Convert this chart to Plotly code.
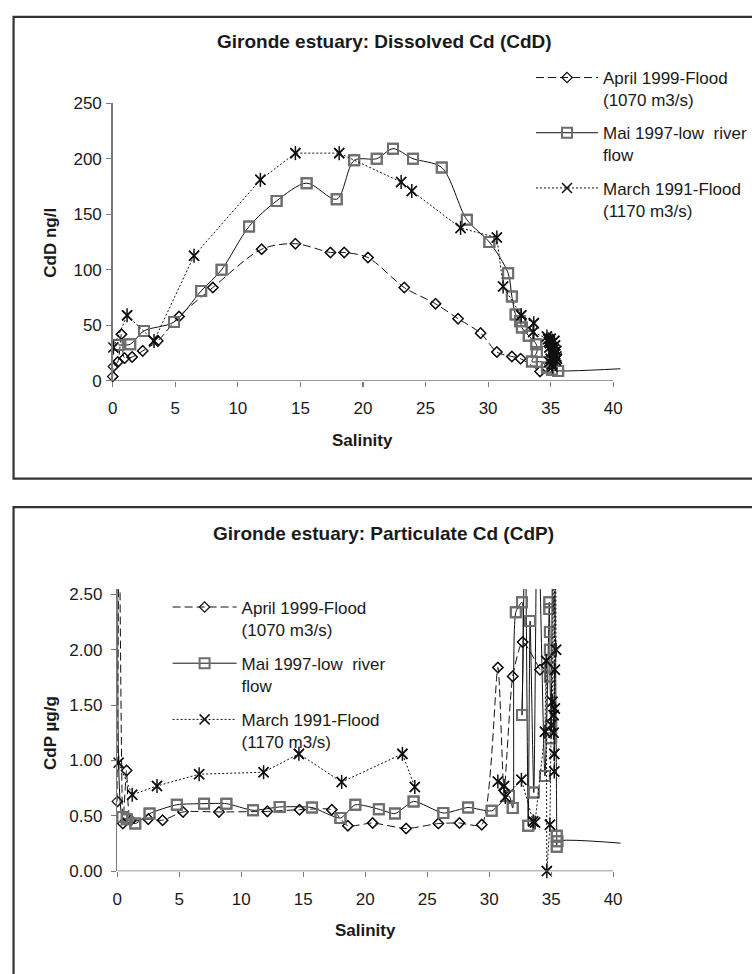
import plotly.graph_objects as go

# ---------------- data: dissolved Cd (top panel) ----------------
april_d_sal = [0.0, 0.05, 0.4, 0.7, 0.95, 1.55, 2.4, 3.6, 5.3, 8.0, 11.9, 14.6, 17.4, 18.5,
               20.4, 23.3, 25.8, 27.6, 29.4, 30.7, 31.9, 32.6, 34.15]
april_d_val = [4, 13, 17, 42, 20.5, 21.5, 27, 36, 58, 84, 118.5, 123.5, 115.6, 115.6,
               111, 84, 69.4, 56, 43, 26, 22, 20, 8.5]

mai_d_sal = [0.45, 1.4, 2.5, 4.9, 7.07, 8.7, 10.9, 13.1, 15.5, 17.9, 19.3, 21.1, 22.4, 24.0,
             26.3, 28.3, 30.1, 31.6, 31.9, 32.2, 32.55, 32.7, 33.25, 33.85, 33.9, 33.5, 34.3,
             34.7, 35.1, 35.6, 44.0]
mai_d_val = [32.4, 33, 45, 53, 81, 100, 139, 162, 178, 163.5, 198.5, 200, 209, 200,
             192, 145, 125, 97, 76, 59.7, 53.8, 48, 40.6, 33, 26, 17.5, 17,
             12, 10, 9, 13]

march_d_sal = [0.05, 1.15, 3.3, 6.5, 11.8, 14.6, 18.1, 23.05, 23.9, 27.8, 30.7, 31.2, 32.65,
               33.65, 33.6, 34.8, 35.1, 34.9, 35.35, 35.0, 35.2, 35.4, 34.95, 35.3, 35.1,
               35.45, 35.2, 34.7, 34.85, 35.0, 35.2, 35.3, 35.45, 35.5, 34.9, 35.15, 35.35]
march_d_val = [30, 59, 36, 112.6, 181, 205, 205, 179, 171, 137.6, 129, 85, 59,
               52, 44, 37.6, 26, 30, 32, 20, 23, 18.5, 34, 25, 15,
               22, 28, 40, 35, 38, 30, 36, 27, 20, 17, 13, 24]

# ---------------- data: particulate Cd (bottom panel) ----------------
april_p_sal = [0.0, 0.15, 0.45, 0.75, 1.1, 2.5, 3.65, 5.3, 8.2, 12.1, 14.7, 17.3, 18.6, 20.6,
               23.3, 25.9, 27.6, 29.4, 30.7, 31.2, 31.9, 32.7, 34.1]
april_p_val = [0.63, 3.2, 0.43, 0.91, 0.46, 0.47, 0.46, 0.535, 0.535, 0.54, 0.555, 0.555, 0.41,
               0.435, 0.385, 0.43, 0.435, 0.42, 1.84, 0.73, 1.76, 2.07, 1.82]

mai_p_sal = [0.05, 0.4, 0.76, 1.45, 2.6, 4.8, 7.0, 8.8, 10.95, 13.1, 15.7, 18.0, 19.2, 21.1,
             22.4, 23.9, 26.3, 28.3, 30.2, 31.6, 31.9, 32.15, 32.65, 32.65, 32.9, 33.15, 33.3,
             33.6, 33.9, 34.5, 34.85, 34.85, 34.9, 34.9, 34.9, 34.9, 35.0, 35.0, 35.2, 35.45,
             35.45, 35.5, 45.0]
mai_p_val = [2.9, 0.49, 0.47, 0.43, 0.52, 0.60, 0.61, 0.61, 0.55, 0.58, 0.575, 0.48, 0.60, 0.56,
             0.52, 0.63, 0.525, 0.575, 0.545, 0.68, 0.57, 2.34, 2.43, 1.41, 3.2, 0.41, 2.26,
             0.71, 3.5, 0.86, 2.43, 2.37, 2.16, 2.0, 1.84, 1.76, 1.32, 1.2, 4.0, 0.32,
             0.22, 0.27, 0.21]

march_p_sal = [0.1, 1.2, 3.2, 6.6, 11.8, 14.65, 18.1, 23.0, 24.0, None, 30.7, 31.2, 31.3, 32.6,
               33.55, 33.7, 34.5, 34.6, 34.65, 34.9, 35.0, 35.1, 35.2, 35.25, 35.2, 35.3, 35.2,
               35.4, 35.3, 35.25, 35.3]
march_p_val = [0.98, 0.69, 0.77, 0.876, 0.894, 1.06, 0.805, 1.06, 0.76, None, 0.81, 0.77, 0.67,
               0.826, 0.45, 0.44, 1.26, 1.9, 0.0, 0.42, 1.32, 1.53, 3.5, 1.06, 1.41, 1.82, 1.25,
               2.0, 4.0, 0.9, 1.47]

series_names = ["April 1999-Flood<br>(1070 m3/s)",
                "Mai 1997-low  river<br>flow",
                "March 1991-Flood<br>(1170 m3/s)"]

x_ticks = [0, 5, 10, 15, 20, 25, 30, 35, 40]
yd_ticks = [0, 50, 100, 150, 200, 250]
yp_ticks = [0.0, 0.5, 1.0, 1.5, 2.0, 2.5]
yp_labels = ["0.00", "0.50", "1.00", "1.50", "2.00", "2.50"]

# ---------------- geometry ----------------
W, H = 752, 974
XD_RANGE = [0, 40.57]
YD_RANGE = [0, 250]
XP_RANGE = [0, 40.6]
YP_RANGE = [0, 2.55]

FONT = "Liberation Sans, Arial, Helvetica, sans-serif"
TXT = "#1a1a1a"
AX = "#7a7a7a"


def px(v):
    return v / W


def py(v):
    return 1 - v / H


def visible(xs, ys, xr, yr):
    ox, oy = [], []
    for a, b in zip(xs, ys):
        if a is None or b is None:
            continue
        if xr[0] <= a <= xr[1] and yr[0] <= b <= yr[1]:
            ox.append(a)
            oy.append(b)
    return ox, oy


def make_styles(smooth):
    return [
        dict(line=dict(color="#111111", width=1, dash="8px,4px", shape="spline", smoothing=smooth),
             marker=dict(symbol="diamond-open", size=8, color="#111111", line=dict(width=1.2))),
        dict(line=dict(color="#111111", width=1, dash="solid", shape="spline", smoothing=smooth),
             marker=dict(symbol="square-open", size=10, color="#6e6e6e", line=dict(width=2))),
        dict(line=dict(color="#111111", width=1, dash="2px,2px", shape="linear"),
             marker=dict(symbol="x-thin-open", size=10, color="#111111", line=dict(width=1.5))),
    ]


fig = go.Figure()

panels = [
    ("x", "y", "legend", XD_RANGE, YD_RANGE, 0.85,
     [(april_d_sal, april_d_val), (mai_d_sal, mai_d_val), (march_d_sal, march_d_val)]),
    ("x2", "y2", "legend2", XP_RANGE, YP_RANGE, 0.6,
     [(april_p_sal, april_p_val), (mai_p_sal, mai_p_val), (march_p_sal, march_p_val)]),
]

for xa, ya, lg, xr, yr, smooth, data in panels:
    styles = make_styles(smooth)
    for i, (xs, ys) in enumerate(data):
        st = styles[i]
        fig.add_trace(go.Scatter(
            x=xs, y=ys, xaxis=xa, yaxis=ya, mode="lines+markers",
            name=series_names[i], legend=lg, legendgroup=f"{lg}-{i}",
            line=st["line"], marker=st["marker"], connectgaps=False,
            cliponaxis=True, hoverinfo="skip"))
        vx, vy = visible(xs, ys, xr, yr)
        fig.add_trace(go.Scatter(
            x=vx, y=vy, xaxis=xa, yaxis=ya, mode="markers", showlegend=False,
            marker=st["marker"], cliponaxis=False, hoverinfo="skip"))
        if i == 2:
            fig.add_trace(go.Scatter(
                x=vx, y=vy, xaxis=xa, yaxis=ya, mode="markers", showlegend=False,
                marker=dict(symbol="line-ns-open", size=10, color="#111111",
                            line=dict(width=1.5)),
                cliponaxis=False, hoverinfo="skip"))

axis_common = dict(showgrid=False, zeroline=False, ticks="outside", ticklen=5,
                   tickwidth=1.2, tickcolor=AX, tickfont=dict(family=FONT, size=17, color=TXT))

fig.update_layout(
    width=W, height=H, margin=dict(l=0, r=0, t=0, b=0),
    paper_bgcolor="white", plot_bgcolor="white",
    font=dict(family=FONT, color=TXT),
    xaxis=dict(domain=[px(109.3), px(624.5)], range=XD_RANGE, anchor="y",
               tickvals=x_ticks, showline=False, ticklabelstandoff=7, **axis_common),
    yaxis=dict(domain=[py(379.3), py(96)], range=YD_RANGE, anchor="x",
               tickvals=yd_ticks, showline=True, linecolor=AX, linewidth=1.5,
               ticklabelstandoff=1, **axis_common),
    xaxis2=dict(domain=[px(114), px(624.7)], range=XP_RANGE, anchor="y2",
                tickvals=x_ticks, showline=False, ticklabelstandoff=7, **axis_common),
    yaxis2=dict(domain=[py(879.3), py(591.5)], range=YP_RANGE, anchor="x2",
                tickvals=yp_ticks, ticktext=yp_labels, showline=True, linecolor=AX,
                linewidth=1.5, ticklabelstandoff=5, **axis_common),
    legend=dict(x=px(534), y=py(52), xanchor="left", yanchor="top",
                font=dict(family=FONT, size=17, color=TXT), itemwidth=62,
                valign="top", tracegroupgap=8, bgcolor="rgba(0,0,0,0)"),
    legend2=dict(x=px(165), y=py(592), xanchor="left", yanchor="top",
                 font=dict(family=FONT, size=17, color=TXT), itemwidth=64,
                 valign="top", tracegroupgap=9, bgcolor="rgba(0,0,0,0)"),
    showlegend=True,
)

shapes = [
    # panel frames
    dict(type="rect", xref="paper", yref="paper", x0=px(8.7), x1=px(770), y0=py(479), y1=py(8),
         line=dict(color="#333333", width=2.2), fillcolor="rgba(0,0,0,0)", layer="below"),
    dict(type="rect", xref="paper", yref="paper", x0=px(8.7), x1=px(770), y0=py(990), y1=py(508),
         line=dict(color="#333333", width=2.2), fillcolor="rgba(0,0,0,0)", layer="below"),
    # category axis lines (stop at the last tick)
    dict(type="line", xref="x", yref="y", x0=0, x1=x_ticks[-1], y0=0, y1=0,
         line=dict(color=AX, width=1.5)),
    dict(type="line", xref="x2", yref="y2", x0=0, x1=x_ticks[-1], y0=0, y1=0,
         line=dict(color=AX, width=1.5)),
]
fig.update_layout(shapes=shapes)

ann = [
    ("<b>Gironde estuary: Dissolved Cd (CdD)</b>", 385, 33, 19, 0),
    ("<b>Salinity</b>", 363, 440, 17, 0),
    ("<b>CdD ng/l</b>", 46, 238, 17, -90),
    ("<b>Gironde estuary: Particulate Cd (CdP)</b>", 384, 535, 19, 0),
    ("<b>Salinity</b>", 366, 940, 17, 0),
    ("<b>CdP µg/g</b>", 46, 738, 17, -90),
]
for text, ax_, ay_, size, rot in ann:
    fig.add_annotation(text=text, x=px(ax_), y=py(ay_), xref="paper", yref="paper",
                       xanchor="center", yanchor="middle", showarrow=False, textangle=rot,
                       font=dict(family=FONT, size=size, color=TXT))

fig.write_html("out.html", config={"displayModeBar": False, "staticPlot": True},
               post_script="document.body.style.margin='0';document.body.style.overflow='hidden';")
